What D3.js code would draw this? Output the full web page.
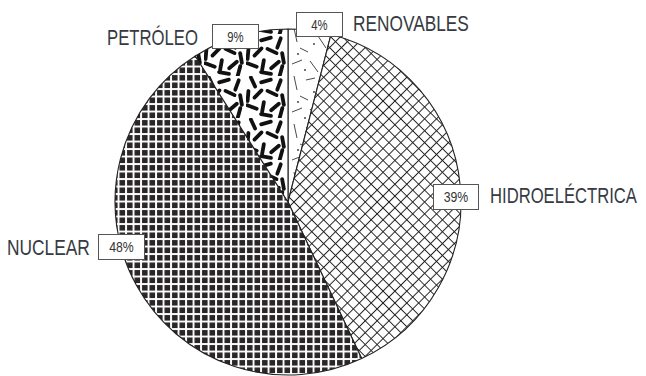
<!DOCTYPE html>
<html><head><meta charset="utf-8">
<script src="https://cdn.jsdelivr.net/npm/d3@7"></script>
<style>html,body{margin:0;padding:0;background:#fff;}svg{display:block;}</style>
</head><body>
<svg id="chart" width="646" height="376"></svg>
<script>
// ---- data ----
const categories = ["RENOVABLES", "HIDROELÉCTRICA", "NUCLEAR", "PETRÓLEO"];
const values = [4, 39, 48, 9];
const valueLabels = ["4%", "39%", "48%", "9%"];

// ---- layout (not data) ----
const W = 646, H = 376;
const cx = 288, cy = 202, R = 173;
const patternIds = ["pRen", "pHid", "pNuc", "pPet"];
// box: [x, y, w, h]; name: [x, baseline, width]
const boxLayout = [[296, 12, 46, 24], [433, 184, 45, 25], [98, 234, 46, 25], [212, 24, 46, 24]];
const nameLayout = [[353, 31, 116], [490, 203, 147], [7, 255, 83], [107, 45, 91]];

const svg = d3.select("#chart");
svg.append("rect").attr("width", W).attr("height", H).attr("fill", "#fff");
const defs = svg.append("defs");

// Nuclear: dense dark squares
const sq = 7.5;
const pn = defs.append("pattern").attr("id", "pNuc").attr("patternUnits", "userSpaceOnUse")
  .attr("width", sq).attr("height", sq).attr("x", cx).attr("y", cy);
pn.append("rect").attr("width", sq).attr("height", sq).attr("fill", "#fff");
pn.append("rect").attr("x", 1).attr("y", 1).attr("width", 5.6).attr("height", 5.6).attr("fill", "#2a2627");

// Hidro: diagonal crosshatch
const d = 8.4;
const ph = defs.append("pattern").attr("id", "pHid").attr("patternUnits", "userSpaceOnUse")
  .attr("width", d).attr("height", d).attr("patternTransform", "rotate(45)");
ph.append("rect").attr("width", d).attr("height", d).attr("fill", "#fff");
ph.append("path").attr("d", `M0,${d/2}H${d}M${d/2},0V${d}`).attr("stroke", "#222").attr("stroke-width", 1);

// Petroleo: thick short dashes
const petDashes = [[7,6,65],[20,5,-15],[33,9,110],[12,18,-45],[26,17,25],[37,24,80],[6,31,20],[17,31,100],[29,31,-40],[20,39,10],[35,37,-75],[2,20,95]];
const pp = defs.append("pattern").attr("id", "pPet").attr("patternUnits", "userSpaceOnUse")
  .attr("width", 42).attr("height", 42);
pp.append("rect").attr("width", 42).attr("height", 42).attr("fill", "#fff");
pp.selectAll("line").data(petDashes).join("line")
  .attr("x1", -5).attr("x2", 5).attr("y1", 0).attr("y2", 0)
  .attr("transform", p => `translate(${p[0]},${p[1]}) rotate(${p[2]})`)
  .attr("stroke", "#111").attr("stroke-width", 3.8).attr("stroke-linecap", "round");

// Renovables: sparse thin strokes and dots
const renLines = [[4,6,14,2],[22,3,30,14],[36,8,41,20],[6,18,9,32],[18,22,27,20],[30,26,38,38],[12,38,20,42],[44,30,48,34]];
const renDots = [[17,12],[33,20],[10,44],[26,34],[42,4]];
const pr = defs.append("pattern").attr("id", "pRen").attr("patternUnits", "userSpaceOnUse")
  .attr("width", 48).attr("height", 48);
pr.append("rect").attr("width", 48).attr("height", 48).attr("fill", "#fff");
pr.selectAll("line").data(renLines).join("line")
  .attr("x1", l => l[0]).attr("y1", l => l[1]).attr("x2", l => l[2]).attr("y2", l => l[3])
  .attr("stroke", "#333").attr("stroke-width", 0.9);
pr.selectAll("circle").data(renDots).join("circle")
  .attr("cx", p => p[0]).attr("cy", p => p[1]).attr("r", 0.9).attr("fill", "#333");

// ---- pie ----
const pie = d3.pie().sort(null).value(v => v)(values);
const arc = d3.arc().innerRadius(0).outerRadius(R);
const g = svg.append("g").attr("transform", `translate(${cx},${cy})`);
g.selectAll("path").data(pie).join("path")
  .attr("d", arc)
  .attr("fill", (p, i) => `url(#${patternIds[i]})`)
  .attr("stroke", "#222").attr("stroke-width", 1.1).attr("stroke-linejoin", "round");

// ---- labels ----
function fitText(parent, str, x, y, width, size, color, anchor) {
  const gg = parent.append("g");
  const t = gg.append("text").attr("x", 0).attr("y", 0)
    .attr("font-family", "Liberation Sans, Arial, sans-serif").attr("font-size", size)
    .attr("fill", color).text(str);
  const nat = t.node().getComputedTextLength();
  const s = width / nat;
  const x0 = anchor === "middle" ? x - width / 2 : x;
  gg.attr("transform", `translate(${x0},${y}) scale(${s},1)`);
}
const lab = svg.append("g");
categories.forEach((c, i) => {
  const b = boxLayout[i], n = nameLayout[i];
  lab.append("rect").attr("x", b[0] + 0.5).attr("y", b[1] + 0.5).attr("width", b[2]).attr("height", b[3])
    .attr("fill", "#fff").attr("stroke", "#555").attr("stroke-width", 1);
  fitText(lab, valueLabels[i], b[0] + b[2] / 2 + 0.5, b[1] + b[3] / 2 + 5.5,
    valueLabels[i].length * 8.2, 14.5, "#333", "middle");
  fitText(lab, c, n[0], n[1], n[2], 22, "#363a42", "start");
});
</script>
</body></html>
